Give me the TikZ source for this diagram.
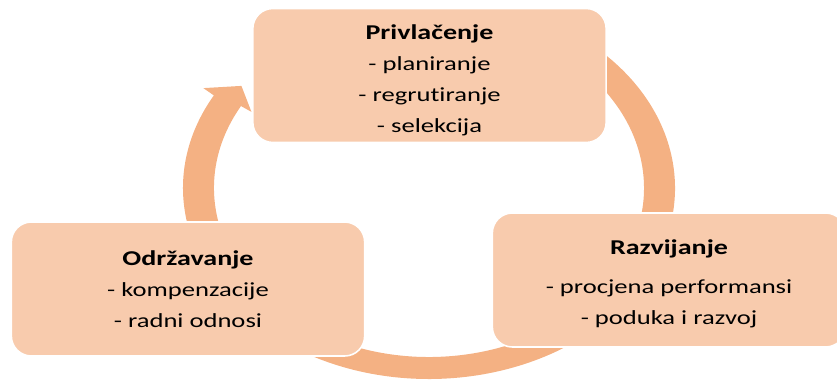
\documentclass[tikz,border=0pt]{standalone}
\usepackage{fontspec}
\setmainfont{Carlito}[FakeStretch=1.33,Ligatures=NoCommon]
\usepackage{tikz}
\usetikzlibrary{calc}

\definecolor{boxfill}{HTML}{F8CBAD}
\definecolor{ringfill}{HTML}{F4B183}

\newcommand{\padtop}[1]{\rule{0pt}{#1}}

\tikzset{
  stagebox/.style={rounded corners=15pt, fill=boxfill, draw=white, line width=1.2pt,
    minimum width=265pt, minimum height=100.5pt, inner sep=0pt, align=center,
    font=\fontsize{15}{23.25}\selectfont}
}

\begin{document}
\begin{tikzpicture}[x=0.75pt,y=0.75pt]
    \useasboundingbox (0,0) rectangle (837,381);
    \clip (0,0) rectangle (837,381);
    \coordinate (C) at (429,193);
    \fill[ringfill] ($(C)+(55:246 and 191)$) arc[start angle=55, end angle=-209, x radius=246, y radius=191]
      -- ($(C)+(151:258 and 206)$) -- ($(C)+(145:229 and 178)$) -- ($(C)+(151:203 and 157)$)
      -- ($(C)+(151:215 and 169)$) arc[start angle=-209, end angle=55, x radius=215, y radius=169] -- cycle;
    \node[stagebox] (privlacenje) at (429.5,305.5) {\padtop{18pt}{\fontsize{15.8}{23.25}\selectfont\bfseries Privlačenje}\\ - planiranje\\ - regrutiranje\\ - selekcija};
    \node[stagebox] (razvijanje) at (669,101) {\padtop{17pt}{\fontsize{15.8}{23.25}\selectfont\bfseries Razvijanje}\\[6pt] - procjena performansi\\ - poduka i razvoj};
    \node[stagebox] (odrzavanje) at (188,92) {{\fontsize{15.8}{23.25}\selectfont\bfseries Održavanje}\\ - kompenzacije\\ - radni odnosi};
\end{tikzpicture}
\end{document}
